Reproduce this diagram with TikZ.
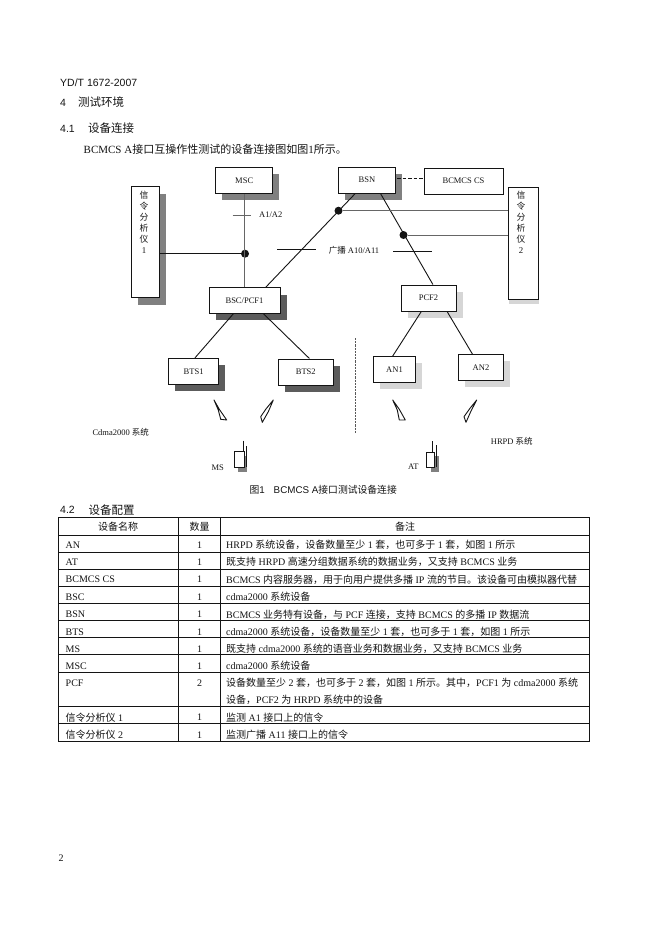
\documentclass[tikz,border=0pt]{standalone}
\usepackage{fontspec}
\setmainfont{Liberation Serif}
\newfontfamily\hei{Liberation Sans}
\newfontfamily\cjk{Noto Sans CJK SC}
\newcommand{\zh}[1]{{\cjk #1}}
\usetikzlibrary{shadows}
\definecolor{ink}{gray}{0.08}
\definecolor{sdark}{gray}{0.36}
\definecolor{smid}{gray}{0.5}
\definecolor{slight}{gray}{0.84}
\newcommand{\sz}[1]{\fontsize{#1}{#1}\selectfont}
\tikzset{
  x=1pt,y=-1pt,
  boxn/.style={draw=ink,fill=white,line width=1pt,inner sep=0pt,font=\sz{8.5},text=ink},
  shdark/.style={boxn,general shadow={shadow xshift=6.5pt,shadow yshift=-7pt,fill=sdark}},
  shmid/.style={boxn,general shadow={shadow xshift=6.5pt,shadow yshift=-7pt,fill=smid}},
  shlight/.style={boxn,general shadow={shadow xshift=6.5pt,shadow yshift=-6.5pt,fill=slight}},
  wire/.style={draw=ink,line width=0.9pt},
  greywire/.style={draw=black!60,line width=1pt},
  tick/.style={draw=ink,line width=0.8pt},
  junction/.style={circle,fill=ink,inner sep=0pt,minimum size=8pt},
  dlabel/.style={inner sep=0pt,font=\sz{8.5},text=ink},
  vlabel/.style={inner sep=0pt,font=\sz{8.8},text=ink,align=center,anchor=north},
  bolt/.style={draw=ink,fill=white,line width=0.9pt,line join=round},
  head/.style={inner sep=0pt,anchor=west,font=\hei\sz{10.5},text=ink},
  cell/.style={inner sep=0pt,font=\sz{10},text=ink},
  rule/.style={draw=ink,line width=0.75pt},
  frame/.style={draw=ink,line width=1pt},
}
\newcommand{\trow}[5]{%
  \node[cell,anchor=west] (#1a) at (65.5,#2) {#3};
  \node[cell] (#1b) at (199.5,#2) {#4};
  \node[cell,anchor=west] (#1c) at (226,#2) {#5};
}
\begin{document}
\begin{tikzpicture}
\useasboundingbox[fill=white] (0,0) rectangle (658,934);

% page text
\node[head] (t1) at (60,82.5) {YD/T 1672-2007};
\node[head] (t2) at (60,102.5) {4};
\node[head,font=\sz{11.5}] (t2b) at (78,102.5) {\zh{测试环境}};
\node[head] (t3) at (60,128.5) {4.1};
\node[head,font=\sz{11.5}] (t3b) at (88,128.5) {\zh{设备连接}};
\node[inner sep=0pt,anchor=west,font=\sz{11},text=ink] (t4) at (83.5,149) {BCMCS A\zh{接口互操作性测试的设备连接图如图}1\zh{所示。}};

% boxes
\node[shmid,minimum width=57pt,minimum height=26pt] (msc) at (244.2,180.3) {MSC};
\node[shmid,minimum width=56.6pt,minimum height=26pt] (bsn) at (367,180) {BSN};
\node[boxn,minimum width=79pt,minimum height=26pt] (cs) at (463.5,181) {BCMCS CS};
\node[shmid,minimum width=28.3pt,minimum height=111.3pt] (a1) at (145.8,242.3) {};
\node[boxn,general shadow={shadow xshift=1pt,shadow yshift=-5pt,fill=slight},minimum width=30pt,minimum height=112pt] (a2) at (523,243) {};
\node[shdark,minimum width=71pt,minimum height=25.6pt] (bsc) at (244.5,300.5) {BSC/PCF1};
\node[shlight,minimum width=55pt,minimum height=26pt] (pcf) at (428.5,298) {PCF2};
\node[shdark,minimum width=49.3pt,minimum height=26pt] (bts1) at (193.6,371.3) {BTS1};
\node[shdark,minimum width=55pt,minimum height=26pt] (bts2) at (305.8,372) {BTS2};
\node[shlight,minimum width=41.6pt,minimum height=26pt] (an1) at (394.5,369.7) {AN1};
\node[shlight,minimum width=44.6pt,minimum height=26.3pt] (an2) at (481,367.8) {AN2};

\node[vlabel] (a1t) at (144,190.5) {\zh{信}\\[2.2pt]\zh{令}\\[2.2pt]\zh{分}\\[2.2pt]\zh{析}\\[2.2pt]\zh{仪}\\[2.2pt]1};
\node[vlabel] (a2t) at (521,190.5) {\zh{信}\\[2.2pt]\zh{令}\\[2.2pt]\zh{分}\\[2.2pt]\zh{析}\\[2.2pt]\zh{仪}\\[2.2pt]2};

% junctions
\node[junction] (j1) at (245,253.7) {};
\node[junction] (j2) at (338.5,210.7) {};
\node[junction] (j3) at (403.5,235) {};

% connectors
\draw[greywire] (msc.south) -- (msc.south |- bsc.north);
\draw[wire] (a1.east |- j1) -- (j1);
\draw[wire] (bsc.32) -- (bsn.229.8);
\draw[wire] (bsn.315) -- (pcf.72);
\draw[greywire] (j2) -- (j2 -| a2.west);
\draw[greywire] (j3) -- (j3 -| a2.west);
\draw[wire,line width=1pt,dash pattern=on 3.5pt off 2pt] (397,178.5) -- (cs.west |- 0,178.5);
\draw[wire] (bsc.230.6) -- (bts1.84);
\draw[wire] (bsc.325.8) -- (bts2.75);
\draw[wire] (pcf.242.4) -- (an1.98);
\draw[wire] (pcf.324.5) -- (an2.122.6);

% interface marks and labels
\draw[tick,draw=black!60] (232.7,215.7) -- (250.7,215.7);
\node[dlabel] (la1) at (270.7,215) {A1/A2};
\draw[tick] (277.3,249.7) -- (315.7,249.7);
\draw[tick] (393.3,251.3) -- (431.7,251.3);
\node[dlabel] (lb) at (354,250) {\zh{广播} A10/A11};
\draw[draw=black!65,line width=1.2pt,dash pattern=on 2.2pt off 1pt] (355.7,338) -- (355.7,433);

% radio bolts
\draw[bolt] (214,400) -- (219.3,409.3) -- (226.7,420) -- (220.7,419.3) -- (218.3,410) -- cycle;
\draw[bolt] (273.3,400) -- (268.3,411.7) -- (262.3,422.3) -- (260.7,416.7) -- (265.7,409.3) -- cycle;
\draw[bolt] (392.7,400) -- (399.3,409.3) -- (405.3,420) -- (399.3,420) -- (397.3,410) -- cycle;
\draw[bolt] (476.7,400) -- (470.7,411.7) -- (466,422.3) -- (464,416.7) -- (470,408.3) -- cycle;

% terminals
\fill[smid] (238,456) rectangle (246.7,471.7);
\fill[smid] (431,456) rectangle (439,471.7);
\draw[wire,fill=white] (234.7,451.7) rectangle (244,467.3);
\draw[wire,fill=white] (426.7,452.3) rectangle (434.3,467);
\draw[wire] (243,440.7) -- (243,451.7);
\draw[wire] (246.3,446) -- (246.3,467);
\draw[wire] (432.3,441) -- (432.3,452.3);
\draw[wire] (436.7,445) -- (436.7,467);
\node[dlabel] (lms) at (217.7,467.3) {MS};
\node[dlabel] (lat) at (413.3,466.7) {AT};
\node[dlabel,anchor=west] (lc) at (92.3,432.3) {Cdma2000 \zh{系统}};
\node[dlabel,anchor=west] (lh) at (490.7,441) {HRPD \zh{系统}};

% caption
\node[inner sep=0pt,anchor=west,font=\hei\sz{9.8},text=ink] (cap) at (249.3,490) {\zh{图}1\hspace{9pt}BCMCS A\zh{接口测试设备连接}};

% table
\node[head] (t5) at (60,509.7) {4.2};
\node[head,font=\sz{11.5}] (t5b) at (88.3,509.7) {\zh{设备配置}};
\foreach \yy in {535.7,552.3,569.7,586.7,603.7,620.7,637.7,654.7,672,706.3,723.7}
  \draw[rule] (58.3,\yy) -- (589.3,\yy);
\draw[rule] (178,517.7) -- (178,741.7);
\draw[rule] (220.7,517.7) -- (220.7,741.7);
\draw[frame] (58.3,517.7) rectangle (589.3,741.7);

\node[cell] (h1) at (118,527) {\zh{设备名称}};
\node[cell] (h2) at (199.5,527) {\zh{数量}};
\node[cell] (h3) at (405,527) {\zh{备注}};
\trow{r1}{545}{AN}{1}{HRPD \zh{系统设备，设备数量至少} 1 \zh{套，也可多于} 1 \zh{套，如图} 1 \zh{所示}}
\trow{r2}{562}{AT}{1}{\zh{既支持} HRPD \zh{高速分组数据系统的数据业务，又支持} BCMCS \zh{业务}}
\trow{r3}{579.5}{BCMCS CS}{1}{BCMCS \zh{内容服务器，用于向用户提供多播} IP \zh{流的节目。该设备可由模拟器代替}}
\trow{r4}{597}{BSC}{1}{cdma2000 \zh{系统设备}}
\trow{r5}{614.5}{BSN}{1}{BCMCS \zh{业务特有设备，与} PCF \zh{连接，支持} BCMCS \zh{的多播} IP \zh{数据流}}
\trow{r6}{632}{BTS}{1}{cdma2000 \zh{系统设备，设备数量至少} 1 \zh{套，也可多于} 1 \zh{套，如图} 1 \zh{所示}}
\trow{r7}{649}{MS}{1}{\zh{既支持} cdma2000 \zh{系统的语音业务和数据业务，又支持} BCMCS \zh{业务}}
\trow{r8}{666}{MSC}{1}{cdma2000 \zh{系统设备}}
\trow{r9}{683}{PCF}{2}{\zh{设备数量至少} 2 \zh{套，也可多于} 2 \zh{套，如图} 1 \zh{所示。其中，}PCF1 \zh{为} cdma2000 \zh{系统}}
\node[cell,anchor=west] (r9d) at (226,700) {\zh{设备，}PCF2 \zh{为} HRPD \zh{系统中的设备}};
\trow{r10}{717.5}{\zh{信令分析仪} 1}{1}{\zh{监测} A1 \zh{接口上的信令}}
\trow{r11}{735}{\zh{信令分析仪} 2}{1}{\zh{监测广播} A11 \zh{接口上的信令}}

\node[inner sep=0pt,font=\sz{10},text=ink] (pg) at (61,858.5) {2};
\end{tikzpicture}
\end{document}
